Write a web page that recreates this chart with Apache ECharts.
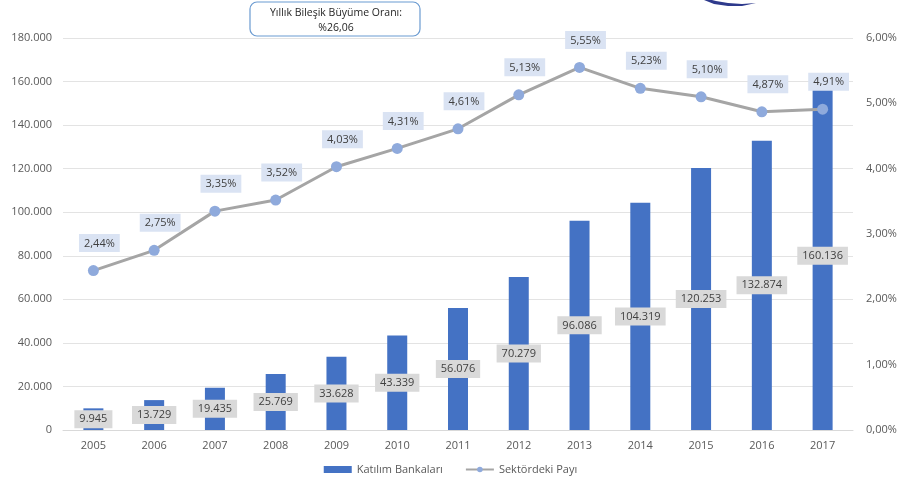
<!DOCTYPE html>
<html><head><meta charset="utf-8">
<script src="https://cdn.jsdelivr.net/npm/echarts@6/dist/echarts.min.js"></script>
<style>html,body{margin:0;padding:0;background:#fff}#c{width:901px;height:486px}</style>
</head><body><div id="c"></div>
<script>
const years = ['2005','2006','2007','2008','2009','2010','2011','2012','2013','2014','2015','2016','2017'];
const katilimBankalari = [9945,13729,19435,25769,33628,43339,56076,70279,96086,104319,120253,132874,160136];
const sektordekiPayi = [2.44,2.75,3.35,3.52,4.03,4.31,4.61,5.13,5.55,5.23,5.10,4.87,4.91];
const seriesNames = ['Katılım Bankaları','Sektördeki Payı'];
const noteLines = ['Yıllık Bileşik Büyüme Oranı:','%26,06'];

const FONT = 'Open Sans, Liberation Sans, sans-serif';
const fmtThousands = v => Math.round(v).toString().replace(/\B(?=(\d{3})+(?!\d))/g, '.');
const fmtPct = v => v.toFixed(2).replace('.', ',') + '%';

const chart = echarts.init(document.getElementById('c'));
chart.setOption({
  animation: false,
  textStyle: {fontFamily: FONT},
  grid: {left: 63, right: 48, top: 38, bottom: 56},
  legend: {
    bottom: 6, left: 'center', itemGap: 22, itemWidth: 28, itemHeight: 7,
    textStyle: {color: '#595959', fontSize: 11, fontFamily: FONT},
    data: [{name: seriesNames[0], icon: 'rect'}, {name: seriesNames[1]}]
  },
  xAxis: {
    type: 'category', data: years,
    axisLine: {lineStyle: {color: '#d9d9d9'}},
    axisTick: {show: false},
    axisLabel: {color: '#595959', fontSize: 11, margin: 10}
  },
  yAxis: [
    {type: 'value', min: 0, max: 180000, interval: 20000,
     axisLabel: {color: '#595959', fontSize: 11, formatter: fmtThousands, margin: 11},
     splitLine: {lineStyle: {color: '#e3e3e3'}},
     axisLine: {show: false}, axisTick: {show: false}},
    {type: 'value', min: 0, max: 6, interval: 1,
     axisLabel: {color: '#595959', fontSize: 11, formatter: fmtPct, margin: 13},
     splitLine: {show: false}, axisLine: {show: false}, axisTick: {show: false}}
  ],
  series: [
    {name: seriesNames[0], type: 'bar', data: katilimBankalari, barWidth: 20,
     itemStyle: {color: '#4472c4'},
     label: {show: true, position: 'inside', formatter: p => fmtThousands(p.value),
       color: '#404040', fontSize: 11, backgroundColor: '#d9d9d9', padding: [4, 5, 3, 5]}},
    {name: seriesNames[1], type: 'line', yAxisIndex: 1, data: sektordekiPayi,
     symbol: 'circle', symbolSize: 11, z: 5,
     lineStyle: {color: '#a5a5a5', width: 3},
     itemStyle: {color: '#8faadc'},
     label: {show: true, position: 'top', distance: 13, offset: [6, 0],
       formatter: p => fmtPct(p.value),
       color: '#404040', fontSize: 11, backgroundColor: '#dae3f3', padding: [4, 5, 3, 5]}}
  ],
  graphic: [
    {type: 'rect', x: 250, y: 2, shape: {x: 0, y: 0, width: 170, height: 34, r: 7},
     style: {fill: '#fff', stroke: '#6b9bd1', lineWidth: 1.2}},
    {type: 'text', x: 336, y: 6, style: {text: noteLines[0] + '\n' + noteLines[1],
      textAlign: 'center', align: 'center', fill: '#262626', fontSize: 10.5, fontFamily: FONT, lineHeight: 15}},
    {type: 'polygon', shape: {points: [[704,0],[714,4],[728,6],[742,6],[756,3],[742,4],[728,3],[716,1],[712,0]]},
     style: {fill: '#2e3a8c'}}
  ]
});
</script></body></html>
